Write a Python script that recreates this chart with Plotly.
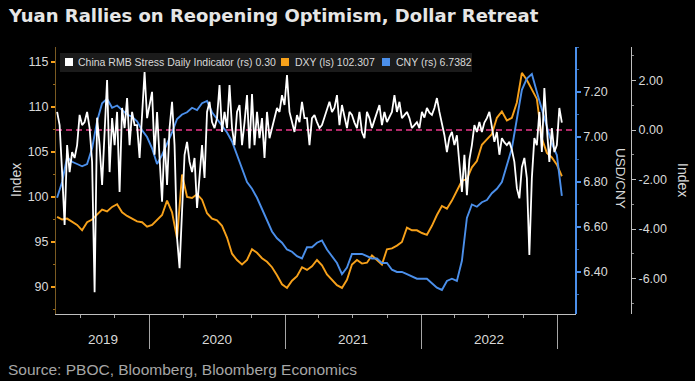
import pandas as pd
import plotly.graph_objects as go

# ---------------- data ----------------
title = "Yuan Rallies on Reopening Optimism, Dollar Retreat"
source = "Source: PBOC, Bloomberg, Bloomberg Economics"
start_date, end_date = "2019-04-29", "2023-01-13"

# China RMB Stress Daily Indicator (right "Index" axis), ~weekly readings
stress = [
    0.73, 0.2, -1.7, -3.84, -0.61, -1.7, -0.89, -1.13, -0.61, 0.61,
    0.2, 0.32, 0.73, 0.08, -1.29, -6.55, 0.5, -0.61, -2.22, 0.08,
    2.02, -1.7, 0.48, -0.61, 0.73, -2.5, 0.89, 0.08, 1.29, -0.61,
    0.73, 0.2, 0.2, -1.13, 0.48, 2.34, 0.48, 1.0, 1.54, -1.0,
    0.73, -1.13, -2.9, -0.33, -2.22, 0.08, 1.14, -0.61, -4.36, -5.58,
    -3.03, -1.0, -0.48, -1.29, -1.7, -1.13, -3.15, -1.7, -0.61, -1.94,
    0.73, 1.14, 0.32, 0.08, 0.48, 1.82, -0.08, 0.73, 0.08, 1.82,
    0.08, -0.61, 0.73, 1.01, -0.61, 0.32, 1.41, -0.75, 1.45, -0.61,
    0.73, -0.33, 0.48, -1.13, 0.73, -0.33, 0.08, 0.48, 0.89, 0.73,
    1.41, 1.01, 2.22, 0.73, 0.32, -0.08, 0.6, 0.32, 1.14, 0.48,
    0.48, -0.61, 0.48, 0.6, 0.32, 0.08, 0.2, 0.5, 0.89, 1.14,
    0.73, 0.9, 1.41, 0.2, 1.01, 0.5, 0.08, 0.73, 0.61, 0.3,
    0.08, 0.73, -0.08, -0.33, 0.73, 0.48, 0.08, 0.4, 0.73, 1.01,
    0.2, 0.73, 0.32, 0.5, 0.73, 1.41, 0.73, 1.14, 0.48, 0.6,
    0.73, 0.48, 0.08, 0.2, 0.32, 0.08, 0.73, 0.5, 0.89, 0.7,
    0.61, 0.89, 1.29, 0.73, 0.32, -0.21, -0.89, -0.3, -0.08, -0.61,
    -0.21, -1.41, -2.5, -1.0, -2.63, -1.2, -0.61, 0.2, -0.08, 0.32,
    -0.08, 0.3, 0.48, 0.73, 0.2, -0.48, -0.08, -1.0, -0.33, -0.5,
    -0.61, -0.48, -0.8, -1.29, -2.35, -2.76, -1.5, -1.13, -1.94, -5.05,
    -1.94, -0.33, -0.61, 0.73, -0.89, 1.7, 0.08, -1.29, 0.08, -0.89,
    -0.61, 0.89, 0.30,
]

# DXY (left axis), ~13-day readings
dxy = [
    97.8, 97.5, 97.6, 97.2, 96.9, 96.3, 97.2, 97.5, 98.0, 98.6,
    98.4, 98.9, 99.2, 98.3, 97.9, 97.6, 97.3, 97.2, 96.7, 96.9,
    97.5, 98.0, 99.6, 98.3, 95.4, 102.5, 100.0, 99.9, 100.3, 99.7,
    98.2, 97.6, 97.4, 96.8, 95.5, 93.7, 93.0, 92.5, 93.0, 94.2,
    93.8, 93.2, 92.8, 92.2, 91.3, 90.3, 89.9, 90.7, 91.2, 92.2,
    91.9, 92.3, 93.0, 92.4, 91.4, 90.8, 90.2, 89.9, 90.8, 92.5,
    93.0, 92.6, 92.7, 93.5, 93.0, 92.5, 94.2, 94.3, 94.6, 95.0,
    96.6, 96.3, 96.3, 96.0, 95.8, 96.8, 98.0, 99.0, 98.7, 99.6,
    100.7, 101.8, 102.0, 103.3, 104.0, 105.8, 106.4, 107.0, 108.8, 109.5,
    108.5, 108.8, 110.5, 113.8, 113.0, 112.0, 110.9, 106.5, 104.9, 104.4,
    103.6, 102.307,
]

# USD/CNY (right blue axis), ~13-day readings
cny = [
    6.73, 6.80, 6.91, 6.89, 6.88, 6.87, 6.88, 6.95, 7.07, 7.15,
    7.17, 7.13, 7.14, 7.12, 7.10, 7.09, 7.07, 7.03, 7.00, 6.95,
    6.88, 6.92, 6.97, 7.02, 7.08, 7.10, 7.11, 7.13, 7.12, 7.15,
    7.16, 7.11, 7.08, 7.05, 7.02, 6.98, 6.92, 6.86, 6.80, 6.77,
    6.73, 6.68, 6.63, 6.58, 6.55, 6.53, 6.50, 6.49, 6.47, 6.46,
    6.51, 6.51, 6.53, 6.54, 6.50, 6.47, 6.44, 6.39, 6.42, 6.48,
    6.48, 6.48, 6.47, 6.46, 6.46, 6.44, 6.44, 6.41, 6.40, 6.40,
    6.39, 6.38, 6.37, 6.37, 6.37, 6.35, 6.33, 6.32, 6.36, 6.37,
    6.36, 6.45, 6.64, 6.70, 6.69, 6.71, 6.72, 6.75, 6.77, 6.80,
    6.88, 6.95, 7.08, 7.21, 7.26, 7.28, 7.20, 7.12, 7.04, 6.97,
    6.92, 6.7382,
]

legend_names = ["China RMB Stress Daily Indicator (rs) 0.30", "DXY (ls) 102.307", "CNY (rs) 6.7382"]
year_labels = ["2019", "2020", "2021", "2022"]
year_label_dates = ["2019-08-29", "2020-07-01", "2021-07-01", "2022-07-02"]
year_starts = ["2020-01-01", "2021-01-01", "2022-01-01", "2023-01-01"]
dxy_ticks = [90, 95, 100, 105, 110, 115]
cny_ticks = [6.4, 6.6, 6.8, 7.0, 7.2]
idx_ticks = [-6, -4, -2, 0, 2]

# ---------------- styling / layout ----------------
W, H = 695, 381
PL, PT, PR, PB = 56, 47, 64, 67
PW, PH = W - PL - PR, H - PT - PB
PLOT_RIGHT = 576


def fx(px):
    return (px - PL) / PW


def fy(py):
    return (PT + PH - py) / PH


WHITE = "#ffffff"
ORANGE = "#f7a11a"
BLUE = "#4b8fea"
TXT = "#d9d9d9"
FONT = "Liberation Sans"

d_stress = pd.date_range(start_date, end_date, periods=len(stress))
d_dxy = pd.date_range(start_date, end_date, periods=len(dxy))
d_cny = pd.date_range(start_date, end_date, periods=len(cny))

fig = go.Figure()
fig.add_trace(go.Scatter(x=d_stress, y=stress, yaxis="y3", mode="lines",
                         line=dict(color=WHITE, width=1.8), name=legend_names[0]))
fig.add_trace(go.Scatter(x=d_dxy, y=dxy, yaxis="y", mode="lines",
                         line=dict(color=ORANGE, width=1.9), name=legend_names[1]))
fig.add_trace(go.Scatter(x=d_cny, y=cny, yaxis="y2", mode="lines",
                         line=dict(color=BLUE, width=1.9), name=legend_names[2]))

xdom = (PLOT_RIGHT - PL) / PW

fig.update_layout(
    width=W, height=H,
    margin=dict(l=PL, r=PR, t=PT, b=PB, autoexpand=False),
    paper_bgcolor="#000000", plot_bgcolor="#000000",
    showlegend=False,
    font=dict(family=FONT, color=TXT, size=12),
    xaxis=dict(
        domain=[0, xdom], range=["2019-04-26", "2023-02-20"],
        showgrid=False, zeroline=False,
        showline=True, linecolor="#bfbfbf", linewidth=1,
        tickmode="array", tickvals=year_starts, showticklabels=False,
        ticks="outside", ticklen=34, tickcolor="#a6a6a6", tickwidth=1,
        minor=dict(ticks="outside", dtick="M3", tick0="2019-01-01",
                   ticklen=3, tickcolor="#a6a6a6", tickwidth=1),
    ),
    yaxis=dict(
        range=[87.0, 116.67], side="left",
        showgrid=False, zeroline=False,
        showline=True, linecolor="#7a5a22", linewidth=1,
        tickmode="array", tickvals=dxy_ticks,
        ticks="outside", ticklen=4, tickcolor=ORANGE, tickwidth=1.5,
        minor=dict(ticks="outside", dtick=2.5, tick0=0, ticklen=2,
                   tickcolor="#9a6a1a", tickwidth=1),
        tickfont=dict(size=12.5, color=TXT, family=FONT),
    ),
    yaxis2=dict(
        range=[6.2133, 7.40], overlaying="y", side="right",
        anchor="free", position=xdom,
        showgrid=False, zeroline=False,
        showline=True, linecolor=BLUE, linewidth=1.5,
        tickmode="array", tickvals=cny_ticks,
        ticktext=[f"{v:.2f}" for v in cny_ticks],
        ticks="outside", ticklen=4, tickcolor=BLUE, tickwidth=1.5,
        minor=dict(ticks="outside", dtick=0.1, tick0=0, ticklen=2,
                   tickcolor="#3a6aa8", tickwidth=1),
        tickfont=dict(size=12.5, color=TXT, family=FONT),
    ),
    yaxis3=dict(
        range=[-7.434, 3.354], overlaying="y", side="right",
        anchor="free", position=1.0,
        showgrid=False, zeroline=False,
        showline=True, linecolor="#bfbfbf", linewidth=1,
        tickmode="array", tickvals=idx_ticks,
        ticktext=[f"{v:.2f}" for v in idx_ticks],
        ticks="outside", ticklen=4, tickcolor="#bfbfbf", tickwidth=1,
        minor=dict(ticks="outside", dtick=1, tick0=0, ticklen=2,
                   tickcolor="#8c8c8c", tickwidth=1),
        tickfont=dict(size=12.5, color=TXT, family=FONT),
    ),
)

shapes = []
# pink dashed zero line of the stress indicator
shapes.append(dict(type="line", xref="x domain", x0=0, x1=1, yref="y3", y0=0, y1=0,
                   line=dict(color="#e8388a", width=1.5, dash="6px,4px"), layer="below"))
# legend background and swatches
shapes.append(dict(type="rect", xref="paper", yref="paper",
                   x0=fx(60), x1=fx(472), y0=fy(72), y1=fy(53),
                   fillcolor="#1b1b1b", line=dict(width=0), layer="above"))
for x0, col in [(65, WHITE), (281, ORANGE), (382, BLUE)]:
    shapes.append(dict(type="rect", xref="paper", yref="paper",
                       x0=fx(x0), x1=fx(x0 + 8), y0=fy(66), y1=fy(58),
                       fillcolor=col, line=dict(width=0), layer="above"))
fig.update_layout(shapes=shapes)

ann = []
for x0, name in zip([76, 293, 394], legend_names):
    ann.append(dict(xref="paper", yref="paper", x=fx(x0), y=fy(62), text=name,
                    xanchor="left", yanchor="middle", showarrow=False,
                    font=dict(size=10.5, color=TXT, family=FONT)))
ann.append(dict(xref="paper", yref="paper", x=fx(6), y=fy(16), text="<b>" + title + "</b>",
                xanchor="left", yanchor="middle", showarrow=False,
                font=dict(size=18, color="#e6e6e6", family="DejaVu Sans")))
ann.append(dict(xref="paper", yref="paper", x=fx(6), y=fy(369), text=source,
                xanchor="left", yanchor="middle", showarrow=False,
                font=dict(size=15.5, color="#a6a6a6", family=FONT)))
for d, lab in zip(year_label_dates, year_labels):
    ann.append(dict(xref="x", yref="paper", x=d, y=fy(339), text=lab,
                    xanchor="center", yanchor="middle", showarrow=False,
                    font=dict(size=13.5, color=TXT, family=FONT)))
ann.append(dict(xref="paper", yref="paper", x=fx(16), y=fy(180), text="Index",
                textangle=-90, xanchor="center", yanchor="middle", showarrow=False,
                font=dict(size=14, color=TXT, family=FONT)))
ann.append(dict(xref="paper", yref="paper", x=fx(621), y=fy(178), text="USD/CNY",
                textangle=90, xanchor="center", yanchor="middle", showarrow=False,
                font=dict(size=13.5, color=TXT, family=FONT)))
ann.append(dict(xref="paper", yref="paper", x=fx(683), y=fy(180), text="Index",
                textangle=90, xanchor="center", yanchor="middle", showarrow=False,
                font=dict(size=14, color=TXT, family=FONT)))
fig.update_layout(annotations=ann)

fig.write_html(
    "out.html",
    config={"displayModeBar": False},
    post_script="document.body.style.margin='0';document.body.style.background='#000';",
)
